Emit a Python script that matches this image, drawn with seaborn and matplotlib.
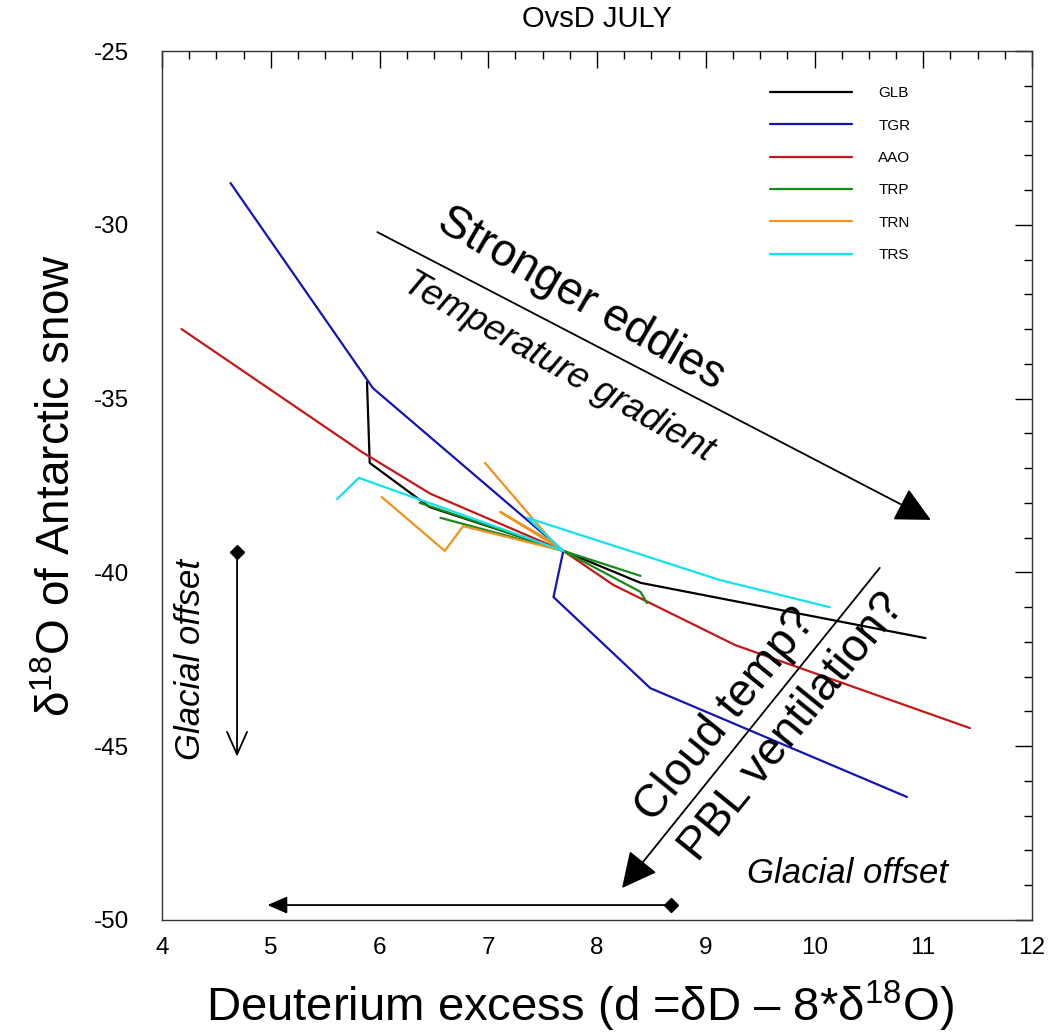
import matplotlib
matplotlib.use("Agg")
import matplotlib.pyplot as plt
import numpy as np
import pandas as pd
import seaborn as sns
from matplotlib.ticker import MultipleLocator

# Sensitivity runs (each sequence passes through the shared control run)
runs = ["GLB", "TGR", "AAO", "TRP", "TRN", "TRS"]
run_colors = ["#000000", "#1414b4", "#c41818", "#188a18", "#f0921e", "#12e2ec"]

glb_d = [5.885, 5.91, 6.46, 7.69, 8.40, 11.02]
glb_o = [-34.52, -36.85, -38.12, -39.38, -40.30, -41.89]

tgr_d = [4.63, 5.94, 7.69, 7.60, 8.49, 10.85]
tgr_o = [-28.80, -34.70, -39.38, -40.71, -43.33, -46.46]

aao_d = [4.18, 5.84, 6.47, 7.69, 8.15, 9.27, 11.43]
aao_o = [-33.00, -36.54, -37.74, -39.38, -40.36, -42.09, -44.48]

trp_d = [6.37, 7.69, 8.40, 6.56, 7.69, 8.40, 8.46]
trp_o = [-38.00, -39.38, -40.10, -38.43, -39.38, -40.56, -40.88]
trp_seg = ["a", "a", "a", "b", "b", "b", "b"]

trn_d = [6.02, 6.60, 6.77, 7.69, 7.11, 7.60, 6.97]
trn_o = [-37.83, -39.38, -38.67, -39.38, -38.26, -39.15, -36.85]

trs_d = [5.61, 5.81, 7.69, 7.36, 9.13, 10.14]
trs_o = [-37.89, -37.28, -39.38, -38.43, -40.22, -41.00]

x_ticks = [4, 5, 6, 7, 8, 9, 10, 11, 12]
y_ticks = [-50, -45, -40, -35, -30, -25]

frames = []
for name, d, o, seg in [
    ("GLB", glb_d, glb_o, None),
    ("TGR", tgr_d, tgr_o, None),
    ("AAO", aao_d, aao_o, None),
    ("TRP", trp_d, trp_o, trp_seg),
    ("TRN", trn_d, trn_o, None),
    ("TRS", trs_d, trs_o, None),
]:
    seg = seg if seg is not None else ["a"] * len(d)
    frames.append(pd.DataFrame({
        "run": name, "dexcess": d, "d18o": o,
        "seg": [f"{name}-{s}" for s in seg],
        "order": np.arange(len(d)),
    }))
df = pd.concat(frames, ignore_index=True)

sns.set_style("white")
plt.rcParams["font.family"] = ["Liberation Sans", "DejaVu Sans"]
plt.rcParams["mathtext.fontset"] = "custom"
plt.rcParams["mathtext.rm"] = "Liberation Sans"
plt.rcParams["mathtext.it"] = "Liberation Sans:italic"
plt.rcParams["axes.unicode_minus"] = False
for key in ["text.color", "axes.labelcolor", "xtick.color", "ytick.color"]:
    plt.rcParams[key] = "black"

fig = plt.figure(figsize=(10.48, 10.36), dpi=100)
ax = fig.add_axes([162 / 1048, 1 - 920 / 1036, 870 / 1048, 869 / 1036])

sns.lineplot(data=df, x="dexcess", y="d18o", hue="run", hue_order=runs,
             palette=run_colors, units="seg", estimator=None, sort=False,
             linewidth=1.6, ax=ax)

ax.set_xlim(4, 12)
ax.set_ylim(-50, -25)
ax.set_xticks(x_ticks)
ax.set_yticks(y_ticks)
ax.xaxis.set_minor_locator(MultipleLocator(0.25))
ax.yaxis.set_minor_locator(MultipleLocator(1))
ax.tick_params(which="both", direction="in", top=True, right=True, width=1)
ax.tick_params(which="major", length=12, labelsize=17.5)
ax.tick_params(axis="y", which="major", pad=24)
ax.tick_params(axis="x", which="major", pad=12)
ax.tick_params(which="minor", length=6)
for sp in ax.spines.values():
    sp.set_color("#333333")
    sp.set_linewidth(1)

ax.set_title("OvsD JULY", fontsize=21, pad=17)
ax.set_xlabel("Deuterium excess (d =δD – 8*δ$^{18}$O)", fontsize=34, labelpad=14)
ax.xaxis.set_label_coords(0.48, -0.068)
ax.set_ylabel("δ$^{18}$O of Antarctic snow", fontsize=33, labelpad=10)

sns.move_legend(ax, "upper left", bbox_to_anchor=(0.69, 0.968), frameon=False,
                title=None, fontsize=11, handlelength=5.4, handletextpad=1.7,
                labelspacing=1.2, borderpad=0)

arrow_big = dict(arrowstyle="-|>,head_length=1.1,head_width=0.55",
                 mutation_scale=20, lw=1.3, color="k", shrinkA=0, shrinkB=0)

# Interpretive arrows and labels
ax.annotate("", xy=(11.07, -38.49), xytext=(5.98, -30.21), arrowprops=arrow_big)
ax.text(7.85, -32.12, "Stronger eddies", fontsize=33, rotation=-30,
        ha="center", va="center", rotation_mode="anchor")
ax.text(7.64, -34.1, "Temperature gradient", fontsize=26.5, style="italic",
        rotation=-29.5, ha="center", va="center", rotation_mode="anchor")

ax.annotate("", xy=(8.23, -49.08), xytext=(10.60, -39.87), arrowprops=arrow_big)
ax.text(9.18, -44.1, "Cloud temp?", fontsize=33, rotation=51,
        ha="center", va="center", rotation_mode="anchor")
ax.text(9.80, -44.45, "PBL ventilation?", fontsize=33, rotation=51,
        ha="center", va="center", rotation_mode="anchor")

# Glacial offsets
ax.annotate("", xy=(4.97, -49.57), xytext=(8.68, -49.57),
            arrowprops=dict(arrowstyle="-|>,head_length=0.8,head_width=0.35",
                            mutation_scale=15, lw=1.3, color="k",
                            shrinkA=0, shrinkB=0))
ax.plot([8.68], [-49.57], marker="D", ms=7, color="k")
ax.text(10.30, -48.65, "Glacial offset", fontsize=25, style="italic",
        ha="center", va="center")

ax.annotate("", xy=(4.69, -45.30), xytext=(4.69, -39.41),
            arrowprops=dict(arrowstyle="->,head_length=0.9,head_width=0.4",
                            mutation_scale=18, lw=1.3, color="k",
                            shrinkA=0, shrinkB=0))
ax.plot([4.69], [-39.41], marker="D", ms=7, color="k")
ax.text(4.26, -42.52, "Glacial offset", fontsize=25, style="italic",
        rotation=90, ha="center", va="center")

fig.savefig("out.png", dpi=100)
